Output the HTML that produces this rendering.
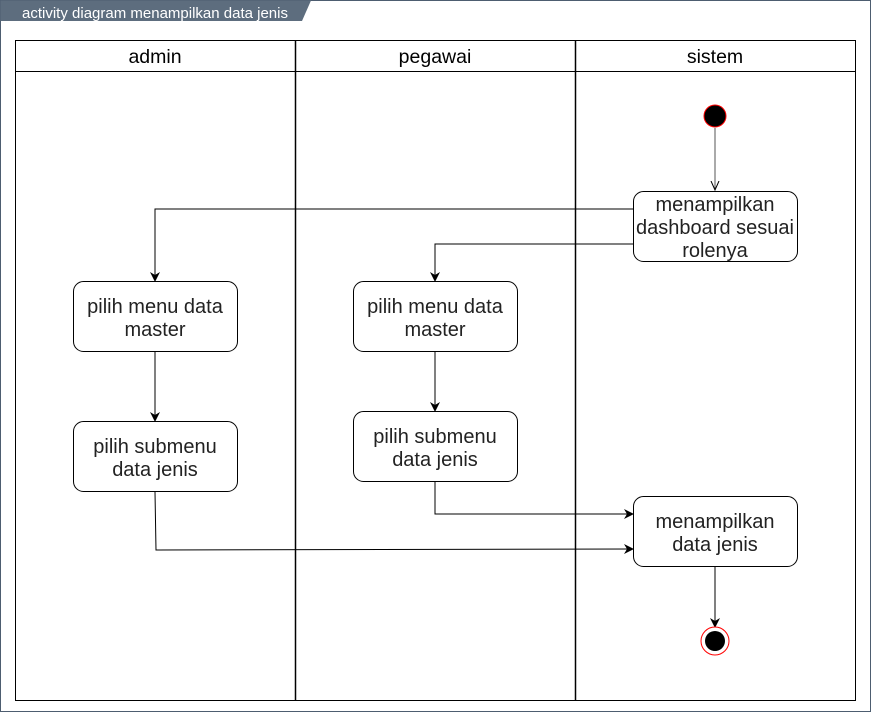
<!DOCTYPE html>
<html><head><meta charset="utf-8"><style>
body{margin:0;background:#fff;}
svg text{font-family:"Liberation Sans",Arial,sans-serif;}
</style></head><body>
<svg width="871" height="712" viewBox="0 0 871 712" xmlns="http://www.w3.org/2000/svg">
<defs>
<marker id="a" viewBox="0 0 10 10" refX="9" refY="5" markerWidth="10" markerHeight="10" markerUnits="userSpaceOnUse" orient="auto"><path d="M0,0 L10,5 L0,10 L3,5 Z" fill="#000"/></marker>
<marker id="o" viewBox="0 0 10 10" refX="9" refY="5" markerWidth="10" markerHeight="10" markerUnits="userSpaceOnUse" orient="auto"><path d="M0,1 L9,5 L0,9" fill="none" stroke="#000"/></marker>
</defs>
<rect x="0.5" y="0.5" width="870" height="711" fill="#fff" stroke="#4d5d70"/>
<path d="M0.5,0.5 H311 L302,21 H0.5 Z" fill="#5d6d7e"/>
<text x="22" y="18" font-size="14.6" fill="#fff" textLength="266" lengthAdjust="spacingAndGlyphs">activity diagram menampilkan data jenis</text>
<g fill="none" stroke="#000">
<rect x="15.5" y="40.5" width="840" height="660"/>
<line x1="15.5" y1="71.5" x2="855.5" y2="71.5"/>
<line x1="295.5" y1="40.5" x2="295.5" y2="700.5" stroke-width="1.5"/>
<line x1="575.5" y1="40.5" x2="575.5" y2="700.5" stroke-width="1.5"/>
</g>
<g font-size="19.5" text-anchor="middle" fill="#000">
<text x="155" y="63">admin</text><text x="435" y="63">pegawai</text><text x="715" y="63">sistem</text>
</g>
<circle cx="715" cy="116" r="11" fill="#000" stroke="#f00"/>
<g fill="#fff" stroke="#000">
<rect x="633.5" y="191.5" width="164" height="70" rx="10"/>
<rect x="73.5" y="281.5" width="164" height="70" rx="10"/>
<rect x="353.5" y="281.5" width="164" height="70" rx="10"/>
<rect x="73.5" y="421.5" width="164" height="70" rx="10"/>
<rect x="353.5" y="411.5" width="164" height="70" rx="10"/>
<rect x="633.5" y="496.5" width="164" height="70" rx="10"/>
</g>
<g fill="none" stroke="#000">
<line x1="715" y1="128" x2="715" y2="190" marker-end="url(#o)" stroke="#555"/>
<polyline points="633,209 155,209 155,281" marker-end="url(#a)"/>
<polyline points="633,244 435,244 435,281" marker-end="url(#a)"/>
<line x1="155" y1="352" x2="155" y2="421" marker-end="url(#a)"/>
<line x1="435" y1="352" x2="435" y2="411" marker-end="url(#a)"/>
<polyline points="435,482 435,514 633,514" marker-end="url(#a)"/>
<polyline points="155,492 156,550 633,549" marker-end="url(#a)"/>
<line x1="715" y1="567" x2="715" y2="627" marker-end="url(#a)"/>
</g>
<circle cx="715" cy="641" r="14" fill="#fff" stroke="#f00"/>
<circle cx="715" cy="641" r="10" fill="#000"/>
<g font-size="20" text-anchor="middle" fill="#222">
<text x="715" y="211">menampilkan</text><text x="715" y="234">dashboard sesuai</text><text x="715" y="257">rolenya</text>
<text x="155" y="313">pilih menu data</text><text x="155" y="336">master</text>
<text x="435" y="313">pilih menu data</text><text x="435" y="336">master</text>
<text x="155" y="453">pilih submenu</text><text x="155" y="476">data jenis</text>
<text x="435" y="443">pilih submenu</text><text x="435" y="466">data jenis</text>
<text x="715" y="528">menampilkan</text><text x="715" y="551">data jenis</text>
</g>
</svg>
</body></html>
